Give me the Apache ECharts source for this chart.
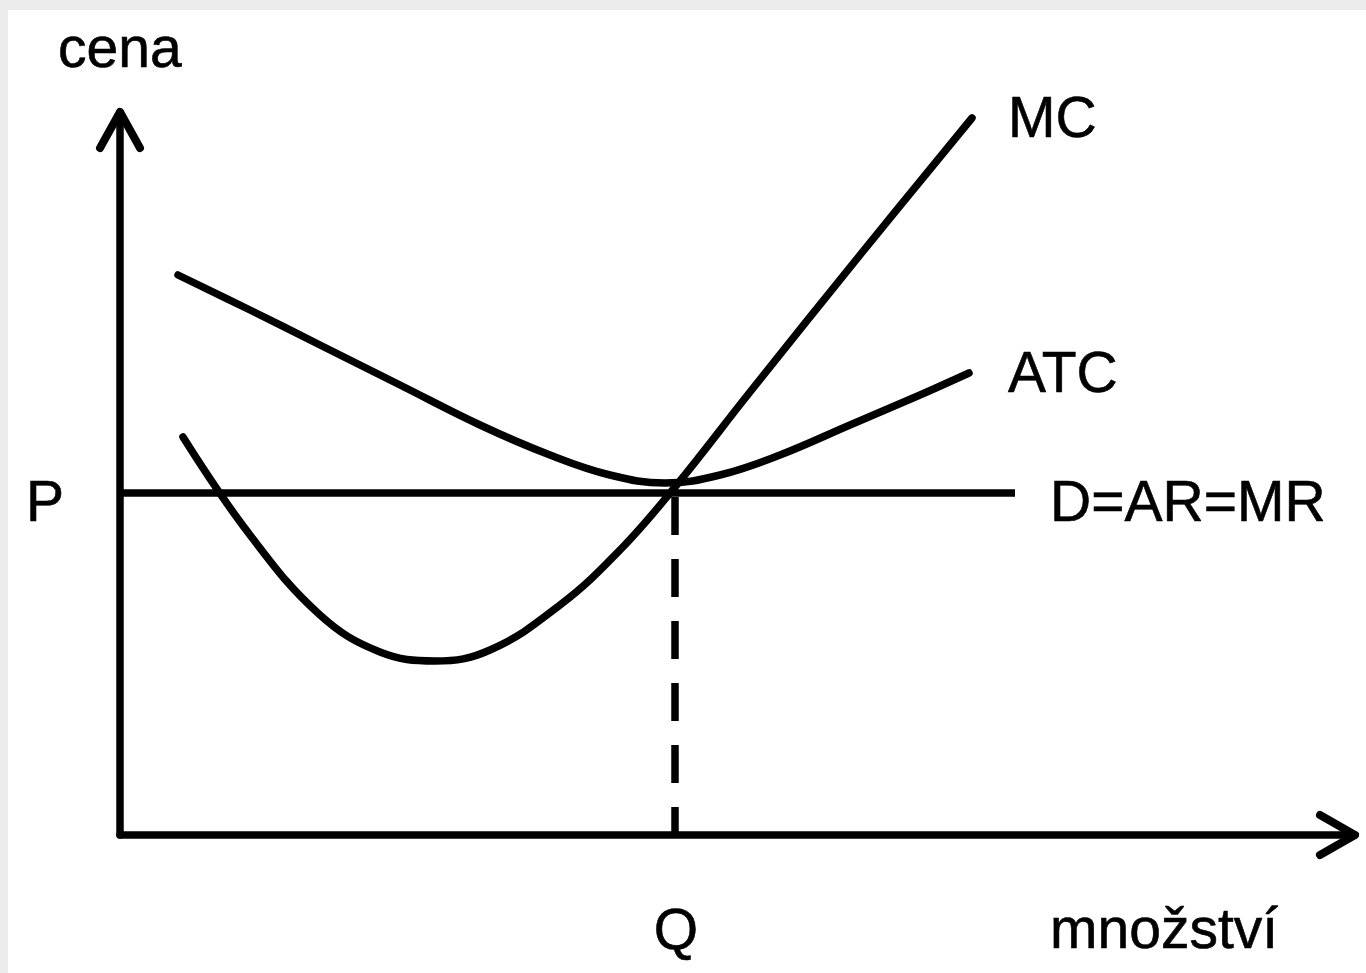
<!DOCTYPE html>
<html>
<head>
<meta charset="utf-8">
<script src="https://cdn.jsdelivr.net/npm/echarts@6/dist/echarts.min.js"></script>
<style>
html,body{margin:0;padding:0;background:#fff;}
#chart{width:1366px;height:973px;}
</style>
</head>
<body>
<div id="chart"></div>
<script>
// Data in axis units (x: quantity, y: price), origin at axes crossing
var mcCurve = [[63,398],[130,300],[200,220],[260,183],[315,174],[370,185],[440,230],[500,285],[555,348],[630,443],[740,580],[852,717]];
var atcCurve = [[58,560],[130,525],[200,490],[280,450],[360,410],[430,380],[490,360],[545,352],[600,360],[660,380],[730,410],[800,440],[849,462]];
var priceP = 342;
var quantityQ = 555;
var demandEndX = 895;
var yAxisLine = [[0,0],[0,723]];
var yArrow = [[-20,687],[0,723],[20,687]];
var xAxisLine = [[0,0],[1235,0]];
var xArrow = [[1200,20],[1235,0],[1200,-20]];
var demandLine = [[0,priceP],[demandEndX,priceP]];
var qDrop = [[quantityQ,priceP-4],[quantityQ,0]];

var FONT = '"Liberation Sans", Arial, Helvetica, sans-serif';
var chart = echarts.init(document.getElementById('chart'));
function lineSeries(name, data, extra){
  var s = {
    name: name, type: 'line', data: data, showSymbol: false, symbol: 'none',
    clip: false, silent: true, animation: false,
    lineStyle: {color: '#000', width: 7.5, cap: 'round', join: 'round'}
  };
  if (extra) for (var k in extra) s[k] = extra[k];
  return s;
}
function txt(t, x, y, align){
  return {type:'text', x:x, y:y, z:100,
    style:{text:t, font:'57px ' + FONT, fill:'#000', stroke:'#000', lineWidth:0.6,
      textAlign:align||'left', textVerticalAlign:'middle'}};
}
chart.setOption({
  backgroundColor: '#fff',
  animation: false,
  grid: {left: 20, right: 6, top: 105, bottom: 138},
  xAxis: {type: 'value', min: -100, max: 1240, show: false},
  yAxis: {type: 'value', min: 0, max: 730, show: false},
  series: [
    lineSeries('yAxis', yAxisLine),
    lineSeries('yArrow', yArrow, {lineStyle:{color:'#000', width:8, cap:'round', join:'round'}}),
    lineSeries('xAxis', xAxisLine),
    lineSeries('xArrow', xArrow, {lineStyle:{color:'#000', width:8, cap:'round', join:'round'}}),
    lineSeries('D=AR=MR', demandLine, {lineStyle:{color:'#000', width:7.5, cap:'butt'}}),
    lineSeries('Q', qDrop, {lineStyle:{color:'#000', width:7.5, type:[38,24], cap:'butt'}}),
    lineSeries('ATC', atcCurve, {smooth: 0.4}),
    lineSeries('MC', mcCurve, {smooth: 0.4})
  ],
  graphic: [
    {type:'rect', shape:{x:0,y:0,width:1366,height:10}, style:{fill:'#ebebeb'}, z:0},
    {type:'rect', shape:{x:0,y:0,width:8,height:973}, style:{fill:'#ebebeb'}, z:0},
    txt('cena', 58, 51),
    txt('MC', 1008, 121),
    txt('ATC', 1008, 376),
    txt('D=AR=MR', 1050, 505),
    txt('P', 26, 505),
    txt('Q', 676, 933, 'center'),
    txt('množství', 1050, 932)
  ]
});
</script>
</body>
</html>
